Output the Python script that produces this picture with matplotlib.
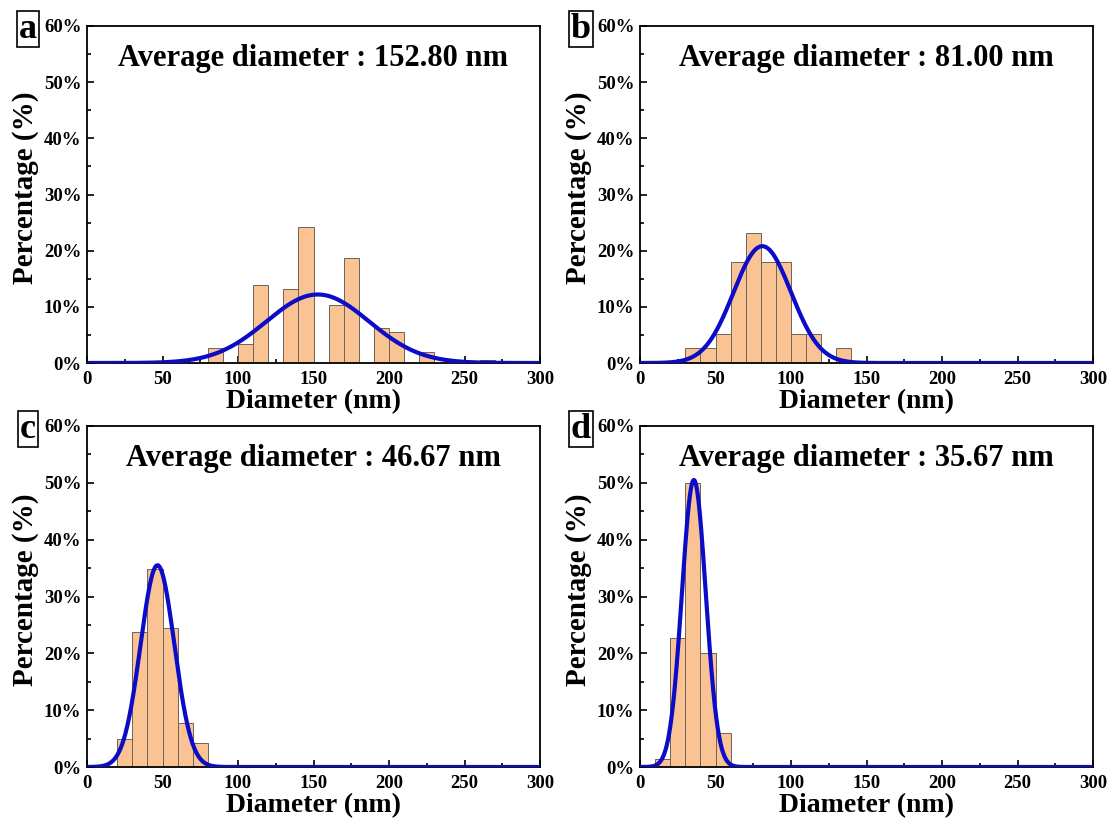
import numpy as np
import matplotlib
matplotlib.use("Agg")
import matplotlib.pyplot as plt
from matplotlib.ticker import MultipleLocator, FuncFormatter

plt.rcParams["font.family"] = ["Liberation Serif", "DejaVu Serif"]
plt.rcParams["font.weight"] = "bold"

# histogram bins (left edges, nm) and percentages for each sample
a_edges = [80, 100, 110, 130, 140, 160, 170, 190, 200, 220, 260]
a_pct = [2.6, 3.4, 13.9, 13.2, 24.3, 10.3, 18.7, 6.2, 5.5, 1.9, 0.6]
b_edges = [30, 40, 50, 60, 70, 80, 90, 100, 110, 130]
b_pct = [2.6, 2.6, 5.1, 17.9, 23.1, 17.9, 17.9, 5.1, 5.1, 2.6]
c_edges = [20, 30, 40, 50, 60, 70]
c_pct = [5.0, 23.8, 34.9, 24.4, 7.8, 4.3]
d_edges = [10, 20, 30, 40, 50]
d_pct = [1.4, 22.7, 50.0, 20.0, 5.9]

# gaussian fits: mean, peak (%), sigma
a_fit = (152.80, 12.2, 34.0)
b_fit = (81.00, 20.8, 19.0)
c_fit = (46.67, 35.5, 11.2)
d_fit = (35.67, 50.5, 7.9)

panels = [
    ("a", a_edges, a_pct, a_fit, "Average diameter : 152.80 nm"),
    ("b", b_edges, b_pct, b_fit, "Average diameter : 81.00 nm"),
    ("c", c_edges, c_pct, c_fit, "Average diameter : 46.67 nm"),
    ("d", d_edges, d_pct, d_fit, "Average diameter : 35.67 nm"),
]

W, H = 1110, 819
fig = plt.figure(figsize=(W / 100, H / 100), dpi=100)

# axes boxes in pixels: left, top, right, bottom
boxes = [(87, 26, 540, 363), (640, 26, 1093, 363),
         (87, 426, 540, 767), (640, 426, 1093, 767)]

x = np.linspace(0, 300, 1200)
for (tag, edges, pct, fit, title), (l, t, r, b) in zip(panels, boxes):
    ax = fig.add_axes([l / W, 1 - b / H, (r - l) / W, (b - t) / H])
    ax.bar(edges, pct, width=10, align="edge", color="#FAC393",
           edgecolor="#6e6258", linewidth=0.7, zorder=2)
    mu, peak, sig = fit
    ax.plot(x, peak * np.exp(-(x - mu) ** 2 / (2 * sig ** 2)),
            color="#0c0cc8", lw=3.0, zorder=3)
    ax.set_xlim(0, 300)
    ax.set_ylim(0, 60)
    ax.xaxis.set_major_locator(MultipleLocator(50))
    ax.xaxis.set_minor_locator(MultipleLocator(25))
    ax.yaxis.set_major_locator(MultipleLocator(10))
    ax.yaxis.set_minor_locator(MultipleLocator(5))
    ax.yaxis.set_major_formatter(FuncFormatter(lambda v, p: f"{v:.0f}%"))
    ax.tick_params(which="both", direction="in", width=1.2, labelsize=13.5)
    ax.tick_params(axis="x", which="major", pad=6)
    ax.tick_params(axis="y", which="major", pad=4)
    ax.tick_params(which="major", length=5)
    ax.tick_params(which="minor", length=3)
    for s in ax.spines.values():
        s.set_linewidth(1.3)
    for lab in ax.get_xticklabels() + ax.get_yticklabels():
        lab.set_fontweight("bold")

    # axis labels sit at fixed pixel offsets from the frame
    ax.set_xlabel("Diameter (nm)", fontsize=20, fontweight="bold")
    ax.xaxis.set_label_coords(0.5, -39 / (b - t))
    ax.xaxis.label.set_va("center")
    ax.set_ylabel("Percentage (%)", fontsize=21, fontweight="bold")
    ax.yaxis.set_label_coords(-61 / (r - l), 0.52)
    ax.yaxis.label.set_va("center")

    ax.text(0.5, 0.905, title, transform=ax.transAxes, ha="center", va="center",
            fontsize=22, fontweight="bold")
    fig.text((l - 59) / W, 1 - (t + 3) / H, tag, ha="center", va="center",
             fontsize=26, fontweight="bold",
             bbox=dict(boxstyle="square,pad=0.05", fc="white", ec="black", lw=1.2))

fig.savefig("out.png", dpi=100)
